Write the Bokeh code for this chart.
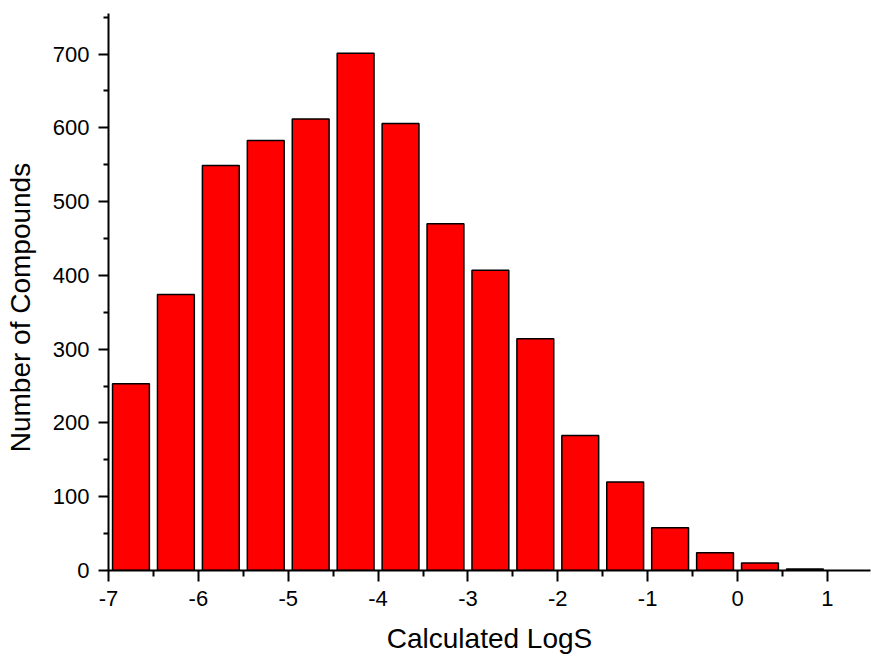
import numpy as np
from bokeh.plotting import figure
from bokeh.models import Range1d, FixedTicker, ColumnDataSource
from bokeh.embed import file_html
from bokeh.resources import INLINE

# Histogram data: bin centres (Calculated LogS) and counts
bin_centers = [-6.75, -6.25, -5.75, -5.25, -4.75, -4.25, -3.75, -3.25,
               -2.75, -2.25, -1.75, -1.25, -0.75, -0.25, 0.25, 0.75]
counts = [253, 374, 549, 583, 612, 701, 606, 470,
          407, 314, 183, 120, 58, 24, 10, 2]
x_ticks = [-7, -6, -5, -4, -3, -2, -1, 0, 1]
x_tick_labels = ["-7", "-6", "-5", "-4", "-3", "-2", "-1", "0", "1"]
y_ticks = [0, 100, 200, 300, 400, 500, 600, 700]

FONT = "Liberation Sans"

p = figure(width=871, height=656, output_backend="svg", toolbar_location=None,
           x_range=Range1d(-7, 1.48), y_range=Range1d(0, 755),
           min_border_left=108, min_border_right=1, min_border_top=13,
           min_border_bottom=86)
p.outline_line_color = None
p.grid.visible = False
p.background_fill_color = "white"
p.border_fill_color = "white"

src = ColumnDataSource(dict(x=bin_centers, top=counts))
p.vbar(x="x", top="top", bottom=0, width=0.41, source=src,
       fill_color="#FF0000", line_color="black", line_width=1.5)

for ax in (p.xaxis[0], p.yaxis[0]):
    ax.axis_line_width = 2
    ax.axis_line_color = "black"
    ax.major_tick_line_width = 2
    ax.minor_tick_line_width = 2
    ax.major_tick_line_color = "black"
    ax.minor_tick_line_color = "black"
    ax.major_tick_in = 0
    ax.minor_tick_in = 0
    ax.major_label_text_font = FONT
    ax.major_label_text_font_size = "22px"
    ax.major_label_text_color = "black"
    ax.axis_label_text_font = FONT
    ax.axis_label_text_font_size = "28px"
    ax.axis_label_text_font_style = "normal"
    ax.axis_label_text_color = "black"

xa = p.xaxis[0]
xa.ticker = FixedTicker(ticks=x_ticks, minor_ticks=[t + 0.5 for t in x_ticks])
xa.major_label_overrides = {t: s for t, s in zip(x_ticks, x_tick_labels)}
xa.major_tick_out = 11
xa.minor_tick_out = 6
xa.major_label_standoff = 9
xa.axis_label = "Calculated LogS"
xa.axis_label_standoff = 14

ya = p.yaxis[0]
ya.ticker = FixedTicker(ticks=y_ticks, minor_ticks=[t + 50 for t in y_ticks])
ya.major_tick_out = 10
ya.minor_tick_out = 5
ya.major_label_standoff = 9
ya.major_label_orientation = "horizontal"
# trailing no-break spaces shift the centred title down a little, as in the reference
ya.axis_label = "Number of Compounds" + "\u00a0" * 4
ya.axis_label_standoff = 14

open("out.html", "w").write(file_html(p, INLINE))
